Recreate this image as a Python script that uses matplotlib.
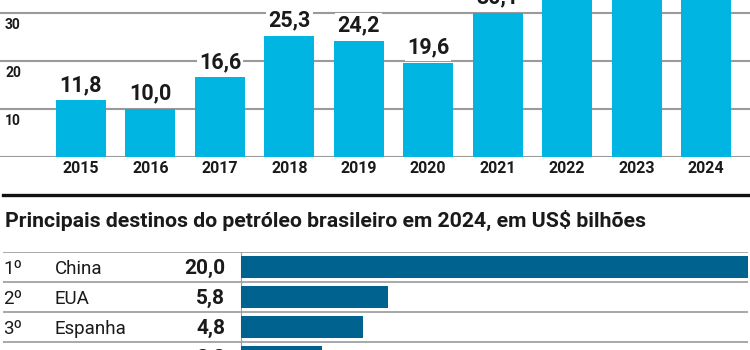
import matplotlib
matplotlib.use("Agg")
import matplotlib.pyplot as plt
from matplotlib.transforms import blended_transform_factory

# Exportações de petróleo (US$ bilhões)
anos = ["2015", "2016", "2017", "2018", "2019", "2020", "2021", "2022", "2023", "2024"]
valores = [11.8, 10.0, 16.6, 25.3, 24.2, 19.6, 30.1, 42.6, 42.6, 44.8]
rotulos_valores = ["11,8", "10,0", "16,6", "25,3", "24,2", "19,6", "30,1", "42,6", "42,6", "44,8"]
marcas_y = [10, 20, 30]

# Principais destinos em 2024
posicoes = ["1º", "2º", "3º", "4º"]
paises = ["China", "EUA", "Espanha", "Holanda"]
destinos = [20.0, 5.8, 4.8, 3.2]
rotulos_destinos = ["20,0", "5,8", "4,8", "3,2"]

titulo = "Principais destinos do petróleo brasileiro em 2024, em US$ bilhões"

azul_claro = "#00b5e2"
azul_escuro = "#00638f"
cinza = "#9a9a9a"
texto = "#1a1a1a"

plt.rcParams["font.family"] = ["Roboto", "DejaVu Sans"]

W, H = 750, 350
fig = plt.figure(figsize=(W / 100, H / 100), dpi=100)


def caixa(x0, y0, x1, y1):
    # coordonnées en pixels depuis le haut gauche
    return [x0 / W, 1 - y1 / H, (x1 - x0) / W, (y1 - y0) / H]


# ---- Gráfico de colunas ----
passo = 69.44
ax = fig.add_axes(caixa(0, 0, W, 157))
x = list(range(len(anos)))
ax.set_xlim(-81 / passo, (W - 81) / passo)
ax.set_ylim(0, 157 / 4.8)
for v in marcas_y:
    ax.axhline(v, color=cinza, lw=1.5, zorder=0)
ax.axhline(0, color=cinza, lw=1.5, zorder=0)
ax.bar(x, valores, width=50 / passo, color=azul_claro, zorder=2)
for xi, v, r in zip(x, valores, rotulos_valores):
    ax.annotate(r, (xi, v), xytext=(0, 3), textcoords="offset points",
                ha="center", va="bottom", fontsize=15.5, fontweight="bold",
                color=texto, zorder=3,
                bbox=dict(boxstyle="square,pad=0.1", fc="white", ec="none"))
trans = blended_transform_factory(ax.transAxes, ax.transData)
for v in marcas_y:
    ax.annotate(str(v), (5 / W, v), xycoords=trans, xytext=(0, -3.5),
                textcoords="offset points", ha="left", va="top",
                fontsize=10, fontweight="bold", color=texto)
ax.set_xticks(x)
ax.set_xticklabels(anos, fontsize=11.5, fontweight="bold", color=texto)
ax.tick_params(axis="x", length=0, pad=3)
ax.set_yticks([])
for s in ax.spines.values():
    s.set_visible(False)

# ---- Linha preta e título ----
fig.add_artist(plt.Line2D([3 / W, 748 / W], [1 - 195 / H, 1 - 195 / H],
                          color="#111111", lw=2.4))
fig.text(5 / W, 1 - 220 / H, titulo, ha="left", va="center",
         fontsize=15.3, fontweight="bold", color=texto)

# ---- Tabela de destinos ----
escala = 25.35
bx = fig.add_axes(caixa(3, 252, 748, H))
bx.set_xlim(-238 / escala, (748 - 241) / escala)
bx.set_ylim((H - 252) / 30 - 0.5, -0.5)
for l in [i - 0.5 for i in range(len(paises) + 1)]:
    bx.axhline(l, color=cinza, lw=1.2, zorder=1)
bx.axvline(0, color=cinza, lw=0.8, zorder=1)
y = list(range(len(paises)))
bx.barh(y, destinos, height=22 / 30, color=azul_escuro, zorder=2)
t = blended_transform_factory(bx.transAxes, bx.transData)
for yi, p, n, r in zip(y, posicoes, paises, rotulos_destinos):
    bx.text(0 / 745, yi + 0.05, p, transform=t, ha="left", va="center",
            fontsize=13.5, color=texto)
    bx.text(52 / 745, yi + 0.05, n, transform=t, ha="left", va="center",
            fontsize=13.5, color=texto)
    bx.text(222 / 745, yi + 0.05, r, transform=t, ha="right", va="center",
            fontsize=15, fontweight="bold", color=texto)
bx.axis("off")

fig.savefig("out.png", dpi=100)
